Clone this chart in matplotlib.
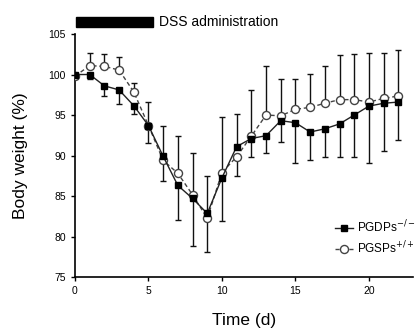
import matplotlib
matplotlib.use('Agg')
import matplotlib.pyplot as plt
import numpy as np

plt.rcParams['font.family'] = ['Liberation Sans', 'DejaVu Sans']

# days and mean body weight (%)
days = np.arange(0, 23)
pgdp = [100.0, 100.0, 98.6, 98.1, 96.15, 93.7, 89.9, 86.3, 84.7, 82.85, 87.25, 91.1,
        92.1, 92.45, 94.3, 94.05, 92.9, 93.3, 93.9, 95.0, 96.1, 96.45, 96.6]
pgsp = [99.8, 101.1, 101.0, 100.55, 97.85, 93.7, 89.4, 87.8, 85.15, 82.25, 87.9, 89.85,
        92.4, 95.0, 94.9, 95.7, 95.95, 96.45, 96.9, 96.9, 96.6, 97.05, 97.35]
# visible error-bar ends (top of bar, bottom of bar)
bar_top = [100.0, 102.6, 102.5, 102.2, 99.0, 96.55, 93.7, 92.45, 90.3, 87.5, 94.7, 95.1,
           98.1, 101.1, 99.5, 99.5, 100.1, 101.1, 102.4, 102.5, 102.6, 102.7, 103.0]
bar_bot = [99.8, 99.4, 97.4, 96.4, 95.1, 91.6, 86.8, 82.0, 78.8, 78.1, 81.95, 87.5,
           89.85, 90.3, 91.7, 89.1, 89.4, 89.85, 89.85, 89.85, 89.1, 90.6, 91.9]

pgdp = np.array(pgdp)
pgsp = np.array(pgsp)
top = np.maximum(pgdp, pgsp)
low = np.minimum(pgdp, pgsp)
err_up = np.clip(np.array(bar_top) - top, 0, None)
err_dn = np.clip(low - np.array(bar_bot), 0, None)

fig = plt.figure(figsize=(4.15, 3.29), dpi=100)
ax = fig.add_axes([0.1807, 0.158, 0.8145, 0.7386])

ax.errorbar(days, top, yerr=[np.zeros_like(err_up), err_up], fmt='none',
            ecolor='#111111', elinewidth=1.0, capsize=2.5, capthick=1.0, zorder=1)
ax.errorbar(days, low, yerr=[err_dn, np.zeros_like(err_dn)], fmt='none',
            ecolor='#111111', elinewidth=1.0, capsize=2.5, capthick=1.0, zorder=1)

ax.plot(days, pgsp, ls=(0, (3, 2)), color='#444444', lw=1.0, marker='o', ms=5.8,
        mfc='white', mec='#444444', mew=1.0, label='PGSPs$^{+/+}$', zorder=3)
ax.plot(days, pgdp, ls='-', color='#222222', lw=1.0, marker='s', ms=4.8,
        mfc='black', mec='black', label='PGDPs$^{-/-}$', zorder=4)

ax.set_xlim(0, 23)
ax.set_ylim(75, 105)
ax.set_xticks([0, 5, 10, 15, 20])
ax.set_yticks([75, 80, 85, 90, 95, 100, 105])
ax.tick_params(labelsize=7.5, length=3, width=1, direction='out')
for s in ['top', 'right']:
    ax.spines[s].set_visible(False)
for s in ['left', 'bottom']:
    ax.spines[s].set_linewidth(1.2)

ax.set_xlabel('Time (d)', fontsize=12.5, labelpad=12)
ax.set_ylabel('Body weight (%)', fontsize=12.5, labelpad=15)

# DSS bar
ax.add_patch(plt.Rectangle((0.05, 105.9), 5.25, 1.15, color='black', clip_on=False))
ax.text(5.75, 106.5, 'DSS administration', fontsize=10, va='center', ha='left')

h, l = ax.get_legend_handles_labels()
ax.legend(h[::-1], l[::-1], loc='upper left', bbox_to_anchor=(0.755, 0.26), frameon=False,
          fontsize=8.5, handlelength=1.5, handletextpad=0.4, labelspacing=0.35,
          borderaxespad=0)

fig.savefig('out.png', dpi=100)
